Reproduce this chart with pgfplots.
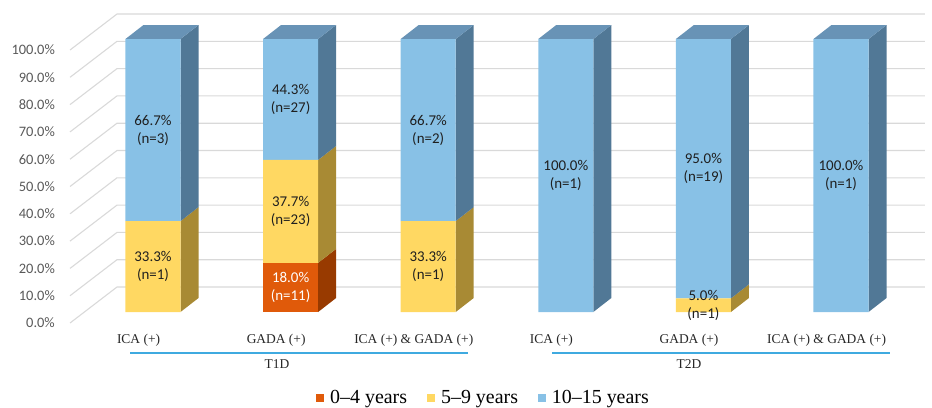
\documentclass[border=0pt]{standalone}
\usepackage{pgfplots}
\pgfplotsset{compat=1.18}
\usepackage{fontspec}
\setmainfont{Liberation Serif}
\newfontfamily\carlito{Carlito}
\definecolor{orF}{HTML}{E05A0A}
\definecolor{orS}{HTML}{983A00}
\definecolor{yeF}{HTML}{FFD862}
\definecolor{yeS}{HTML}{A88A34}
\definecolor{blF}{HTML}{88C1E6}
\definecolor{blS}{HTML}{517896}
\definecolor{blT}{HTML}{6893B6}
\definecolor{gridc}{HTML}{D9D9D9}
\definecolor{tickc}{HTML}{595959}
\definecolor{grpl}{HTML}{3FAAE0}
\tikzset{tl/.style={anchor=east, text=tickc, inner sep=0pt, font=\carlito\fontsize{14.5}{16}\selectfont},
  cl/.style={text=black!85, inner sep=0pt, font=\fontsize{13.5}{15}\selectfont},
  dl/.style={align=center, text=black!88, inner sep=0pt, font=\carlito\fontsize{15}{18}\selectfont}}
\pgfplotsset{base/.style={scale only axis, width=932bp, height=408bp,
  xmin=-1.1119, xmax=5.6613, ymin=-35.16, ymax=114.29,
  axis lines=none, clip=false}}
\begin{document}
\begin{tikzpicture}
% ---------- back layer: walls, ticks, 3D faces ----------
\begin{axis}[base]
\path (rel axis cs:0,0) rectangle (rel axis cs:1,1);
\pgfplotsinvokeforeach{0,...,10}{
  \draw[gridc, line width=1.1bp] (axis cs:-0.603,{-4.03+10*#1}) -- (axis cs:-0.2616,{9.16+10*#1}) -- (axis cs:5.61,{9.16+10*#1});
}
\node[tl] at (axis cs:-0.712,-4.03) {0.0\%};
\node[tl] at (axis cs:-0.712,5.97) {10.0\%};
\node[tl] at (axis cs:-0.712,15.97) {20.0\%};
\node[tl] at (axis cs:-0.712,25.97) {30.0\%};
\node[tl] at (axis cs:-0.712,35.97) {40.0\%};
\node[tl] at (axis cs:-0.712,45.97) {50.0\%};
\node[tl] at (axis cs:-0.712,55.97) {60.0\%};
\node[tl] at (axis cs:-0.712,65.97) {70.0\%};
\node[tl] at (axis cs:-0.712,75.97) {80.0\%};
\node[tl] at (axis cs:-0.712,85.97) {90.0\%};
\node[tl] at (axis cs:-0.712,95.97) {100.0\%};
% side faces
\addplot[fill=yeS, draw=none] coordinates {(0.2,0) (0.3308,5.13) (0.3308,38.43) (0.2,33.3) (0.2,0)};
\addplot[fill=blS, draw=none] coordinates {(0.2,33.3) (0.3308,38.43) (0.3308,105.13) (0.2,100) (0.2,33.3)};
\addplot[fill=orS, draw=none] coordinates {(1.2,0) (1.3308,5.13) (1.3308,23.13) (1.2,18.0) (1.2,0)};
\addplot[fill=yeS, draw=none] coordinates {(1.2,18.0) (1.3308,23.13) (1.3308,60.83) (1.2,55.7) (1.2,18.0)};
\addplot[fill=blS, draw=none] coordinates {(1.2,55.7) (1.3308,60.83) (1.3308,105.13) (1.2,100) (1.2,55.7)};
\addplot[fill=yeS, draw=none] coordinates {(2.2,0) (2.3308,5.13) (2.3308,38.43) (2.2,33.3) (2.2,0)};
\addplot[fill=blS, draw=none] coordinates {(2.2,33.3) (2.3308,38.43) (2.3308,105.13) (2.2,100) (2.2,33.3)};
\addplot[fill=blS, draw=none] coordinates {(3.2,0) (3.3308,5.13) (3.3308,105.13) (3.2,100) (3.2,0)};
\addplot[fill=yeS, draw=none] coordinates {(4.2,0) (4.3308,5.13) (4.3308,10.13) (4.2,5.0) (4.2,0)};
\addplot[fill=blS, draw=none] coordinates {(4.2,5.0) (4.3308,10.13) (4.3308,105.13) (4.2,100) (4.2,5.0)};
\addplot[fill=blS, draw=none] coordinates {(5.2,0) (5.3308,5.13) (5.3308,105.13) (5.2,100) (5.2,0)};
% top faces
\addplot[fill=blT, draw=none] coordinates {(-0.2,100) (-0.0692,105.13) (0.3308,105.13) (0.2,100) (-0.2,100)};
\addplot[fill=blT, draw=none] coordinates {(0.8,100) (0.9308,105.13) (1.3308,105.13) (1.2,100) (0.8,100)};
\addplot[fill=blT, draw=none] coordinates {(1.8,100) (1.9308,105.13) (2.3308,105.13) (2.2,100) (1.8,100)};
\addplot[fill=blT, draw=none] coordinates {(2.8,100) (2.9308,105.13) (3.3308,105.13) (3.2,100) (2.8,100)};
\addplot[fill=blT, draw=none] coordinates {(3.8,100) (3.9308,105.13) (4.3308,105.13) (4.2,100) (3.8,100)};
\addplot[fill=blT, draw=none] coordinates {(4.8,100) (4.9308,105.13) (5.3308,105.13) (5.2,100) (4.8,100)};
% category labels
\node[cl] at (axis cs:-0.105,-10.26) {ICA (+)};
\node[cl] at (axis cs:0.895,-10.26) {GADA (+)};
\node[cl] at (axis cs:1.895,-10.26) {ICA (+) \& GADA (+)};
\node[cl] at (axis cs:2.895,-10.26) {ICA (+)};
\node[cl] at (axis cs:3.895,-10.26) {GADA (+)};
\node[cl] at (axis cs:4.895,-10.26) {ICA (+) \& GADA (+)};
\node[cl] at (axis cs:0.901,-19.05) {T1D};
\node[cl] at (axis cs:3.895,-19.05) {T2D};
\draw[grpl, line width=1.4bp] (axis cs:-0.167,-15.02) -- (axis cs:2.289,-15.02);
\draw[grpl, line width=1.4bp] (axis cs:2.900,-15.02) -- (axis cs:5.356,-15.02);
\end{axis}
% ---------- middle layer: stacked bar fronts ----------
\begin{axis}[base, ybar stacked, bar width=0.4,
  legend columns=3,
  legend style={at={(axis cs:1.1846,-31.5)}, anchor=west, draw=none, fill=none, inner sep=0pt,
    font=\fontsize{20}{22}\selectfont,
    /tikz/every odd column/.append style={column sep=4bp},
    /tikz/every even column/.append style={column sep=18bp}},
  legend image code/.code={\fill[#1] (0bp,-4bp) rectangle (8bp,4bp);}]
\addplot[fill=orF, draw=none] coordinates {(0,0) (1,18.0) (2,0) (3,0) (4,0) (5,0)};
\addplot[fill=yeF, draw=none] coordinates {(0,33.3) (1,37.7) (2,33.3) (3,0) (4,5.0) (5,0)};
\addplot[fill=blF, draw=none] coordinates {(0,66.7) (1,44.3) (2,66.7) (3,100) (4,95.0) (5,100)};
\legend{0–4 years, 5–9 years, 10–15 years}
\end{axis}
% ---------- top layer: data labels ----------
\begin{axis}[base]
\node[dl] at (axis cs:0,16.65) {33.3\%\\(n=1)};
\node[dl] at (axis cs:0,66.65) {66.7\%\\(n=3)};
\node[dl, text=white] at (axis cs:1,9.0) {18.0\%\\(n=11)};
\node[dl] at (axis cs:1,36.85) {37.7\%\\(n=23)};
\node[dl] at (axis cs:1,77.85) {44.3\%\\(n=27)};
\node[dl] at (axis cs:2,16.65) {33.3\%\\(n=1)};
\node[dl] at (axis cs:2,66.65) {66.7\%\\(n=2)};
\node[dl] at (axis cs:3,50) {100.0\%\\(n=1)};
\node[dl] at (axis cs:4,2.5) {5.0\%\\(n=1)};
\node[dl] at (axis cs:4,52.5) {95.0\%\\(n=19)};
\node[dl] at (axis cs:5,50) {100.0\%\\(n=1)};
\end{axis}
\end{tikzpicture}
\end{document}
